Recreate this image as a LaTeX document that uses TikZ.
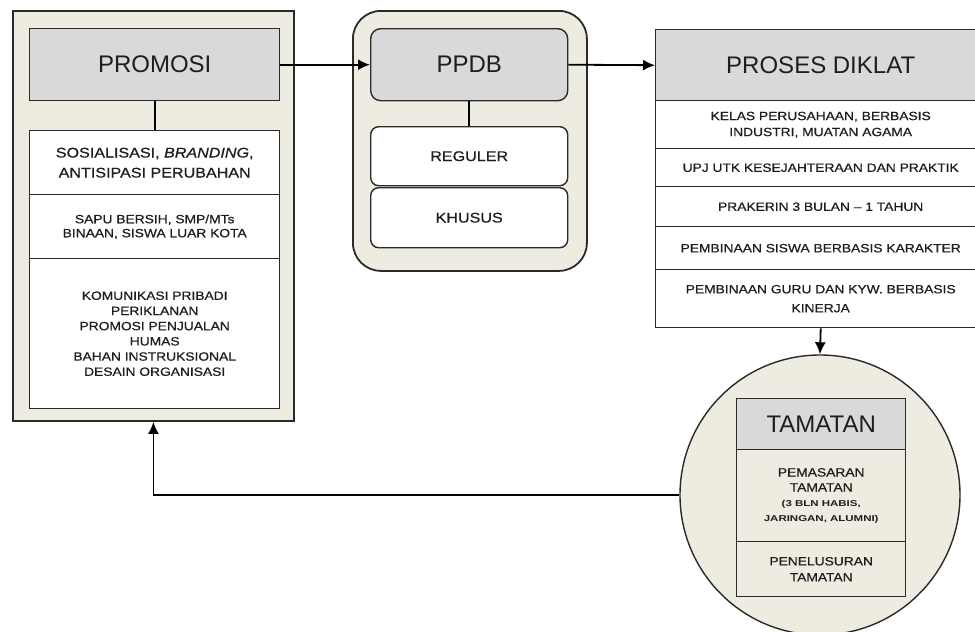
\documentclass[tikz,border=0pt]{standalone}
\usepackage{fontspec}
\setmainfont{Liberation Sans}
\newfontfamily\stf[FakeStretch=1.15,FakeBold=0.6]{Liberation Sans}
\newfontfamily\widef[FakeStretch=1.35]{Liberation Sans}
\usetikzlibrary{arrows.meta}
\definecolor{beige}{HTML}{EEEBE0}
\definecolor{hdr}{HTML}{D9D9D9}
\definecolor{txt}{HTML}{1E1E1E}
\definecolor{edge}{HTML}{2A2A2A}
\begin{document}
\begin{tikzpicture}[x=1pt,y=-1pt,
 outer/.style={draw=edge, line width=1.8pt, fill=beige, anchor=north west, inner sep=0pt},
 hdrbox/.style={draw=edge, line width=1.4pt, fill=hdr, anchor=north west, inner sep=0pt, font=\fontsize{24}{28}\selectfont, text=txt},
 rowbox/.style={draw=edge, line width=1.4pt, fill=white, anchor=north west, inner sep=0pt, align=center, text=txt},
 link/.style={line width=1.8pt, draw=black},
 arr/.style={link, -{Latex[length=12pt,width=11pt]}}]
\clip (0,0) rectangle (975,632);
\fill[white] (0,0) rectangle (975,632);

% PROMOSI
\node[outer, minimum width=281pt, minimum height=410pt] (promout) at (12,10) {};
\node[hdrbox, minimum width=250pt, minimum height=72pt] (promhdr) at (29,28) {PROMOSI};
\node[rowbox, minimum width=250pt, minimum height=64pt, font=\stf\fontsize{14}{20}\selectfont] (p1) at (29,130) {SOSIALISASI, \textit{BRANDING},\\ANTISIPASI PERUBAHAN};
\node[rowbox, minimum width=250pt, minimum height=64pt, font=\stf\fontsize{12}{14}\selectfont] (p2) at (29,194) {SAPU BERSIH, SMP/MTs\\BINAAN, SISWA LUAR KOTA};
\node[rowbox, minimum width=250pt, minimum height=150pt, font=\stf\fontsize{12}{15.2}\selectfont] (p3) at (29,258) {KOMUNIKASI PRIBADI\\PERIKLANAN\\PROMOSI PENJUALAN\\HUMAS\\BAHAN INSTRUKSIONAL\\DESAIN ORGANISASI};
\draw[link] (promhdr.south) -- (p1.north);

% PPDB
\node[outer, rounded corners=28pt, minimum width=234pt, minimum height=260pt] (ppdbout) at (352,10) {};
\node[hdrbox, rounded corners=10pt, minimum width=197pt, minimum height=72pt] (ppdbhdr) at (370,28) {PPDB};
\node[rowbox, rounded corners=8pt, minimum width=197pt, minimum height=59pt, font=\stf\fontsize{14}{16}\selectfont] (reg) at (370,126) {REGULER};
\node[rowbox, rounded corners=8pt, minimum width=197pt, minimum height=60pt, font=\stf\fontsize{14}{16}\selectfont] (khu) at (370,187) {KHUSUS};
\draw[link] (ppdbhdr.south) -- (reg.north);

% PROSES DIKLAT
\node[hdrbox, minimum width=330pt, minimum height=71pt] (proshdr) at (655,29) {PROSES DIKLAT};
\node[rowbox, minimum width=330pt, minimum height=48pt, font=\stf\fontsize{12}{16}\selectfont] (r1) at (655,100) {KELAS PERUSAHAAN, BERBASIS\\INDUSTRI, MUATAN AGAMA};
\node[rowbox, minimum width=330pt, minimum height=38pt, font=\stf\fontsize{12}{16}\selectfont] (r2) at (655,148) {UPJ UTK KESEJAHTERAAN DAN PRAKTIK};
\node[rowbox, minimum width=330pt, minimum height=40pt, font=\stf\fontsize{12}{16}\selectfont] (r3) at (655,186) {PRAKERIN 3 BULAN \textendash{} 1 TAHUN};
\node[rowbox, minimum width=330pt, minimum height=43pt, font=\stf\fontsize{12}{16}\selectfont] (r4) at (655,226) {PEMBINAAN SISWA BERBASIS KARAKTER};
\node[rowbox, minimum width=330pt, minimum height=58pt, font=\stf\fontsize{12}{19}\selectfont] (r5) at (655,269) {PEMBINAAN GURU DAN KYW. BERBASIS\\KINERJA};

% TAMATAN
\node[draw=edge, circle, line width=1.4pt, fill=beige, minimum size=280pt, inner sep=0pt] (circ) at (820,495) {};
\node[hdrbox, minimum width=169pt, minimum height=51pt] (tam) at (736,398) {TAMATAN};
\node[rowbox, fill=beige, minimum width=169pt, minimum height=92pt, font=\stf\fontsize{12}{15}\selectfont] (pem) at (736,449) {PEMASARAN\\TAMATAN\\{\widef\bfseries\fontsize{8.5}{14}\selectfont (3 BLN HABIS,}\\{\widef\bfseries\fontsize{8.5}{14}\selectfont JARINGAN, ALUMNI)}};
\node[rowbox, fill=beige, minimum width=169pt, minimum height=55pt, font=\stf\fontsize{12}{16}\selectfont] (pen) at (736,541) {PENELUSURAN\\TAMATAN};

% connectors
\draw[arr] (promhdr.east) -- (ppdbhdr.west);
\draw[arr] (ppdbhdr.east) -- (proshdr.west);
\draw[arr] (r5.south) -- (circ.north);
\draw[arr] (circ.west) -| (promout.south);
\end{tikzpicture}
\end{document}
